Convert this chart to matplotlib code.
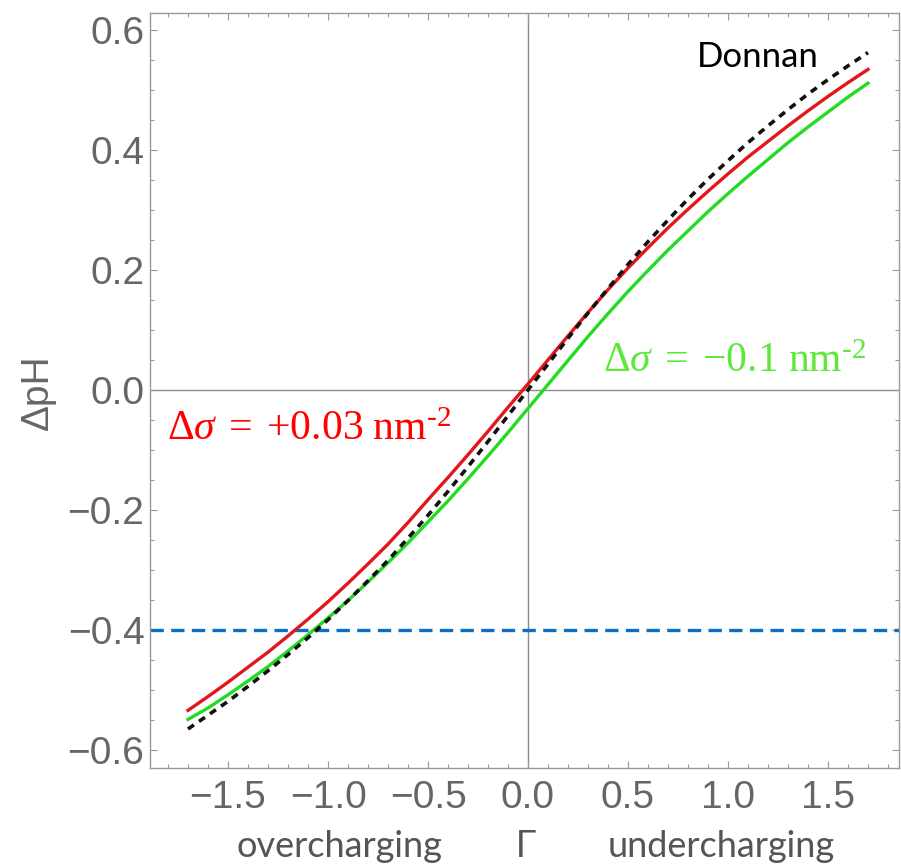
import matplotlib
matplotlib.use("Agg")
import matplotlib.pyplot as plt
from matplotlib.ticker import MultipleLocator, FuncFormatter

# ---- data ----
gamma = [-1.7, -1.6, -1.5, -1.4, -1.3, -1.2, -1.1, -1.0, -0.9, -0.8, -0.7, -0.6,
         -0.5, -0.4, -0.3, -0.2, -0.1, 0.0, 0.1, 0.2, 0.3, 0.4, 0.5, 0.6,
         0.7, 0.8, 0.9, 1.0, 1.1, 1.2, 1.3, 1.4, 1.5, 1.6, 1.7]

dph_donnan = [-0.565, -0.542, -0.519, -0.494, -0.468, -0.441, -0.413, -0.383, -0.351,
              -0.318, -0.284, -0.247, -0.209, -0.169, -0.128, -0.086, -0.043, 0.000,
              0.043, 0.086, 0.128, 0.169, 0.209, 0.247, 0.283, 0.318, 0.351, 0.382,
              0.412, 0.440, 0.467, 0.493, 0.517, 0.540, 0.562]

dph_plus003 = [-0.534, -0.511, -0.487, -0.462, -0.437, -0.410, -0.382, -0.353, -0.322,
               -0.290, -0.257, -0.221, -0.183, -0.146, -0.108, -0.069, -0.029, 0.010,
               0.050, 0.090, 0.129, 0.167, 0.203, 0.237, 0.270, 0.301, 0.331, 0.360,
               0.388, 0.414, 0.440, 0.465, 0.489, 0.512, 0.534]

dph_minus01 = [-0.549, -0.530, -0.508, -0.485, -0.461, -0.435, -0.408, -0.380, -0.351,
               -0.320, -0.288, -0.255, -0.220, -0.185, -0.148, -0.110, -0.071, -0.031,
               0.009, 0.049, 0.089, 0.127, 0.164, 0.199, 0.233, 0.265, 0.297, 0.327,
               0.356, 0.384, 0.412, 0.438, 0.463, 0.488, 0.511]

threshold = -0.4

x_ticks = [-1.5, -1.0, -0.5, 0.0, 0.5, 1.0, 1.5]
y_ticks = [-0.6, -0.4, -0.2, 0.0, 0.2, 0.4, 0.6]

# ---- style ----
plt.rcParams["font.family"] = ["Liberation Sans", "DejaVu Sans"]
plt.rcParams["mathtext.fontset"] = "custom"
plt.rcParams["mathtext.rm"] = "Liberation Serif"
plt.rcParams["mathtext.it"] = "Liberation Serif:italic"
plt.rcParams["mathtext.bf"] = "Liberation Serif:bold"

fig = plt.figure(figsize=(9.01, 8.67), dpi=100)
ax = fig.add_axes([150 / 901, 99 / 867, 749 / 901, 755 / 867])

frame_col = "#9a9a9a"
tick_col = "#666666"

ax.axhline(0, color="#8c8c8c", lw=1.0, zorder=1)
ax.axvline(0, color="#8c8c8c", lw=1.0, zorder=1)
ax.axhline(threshold, color="#0a6fc6", lw=2.4, dashes=(4.0, 2.2), zorder=2)

ax.plot(gamma, dph_plus003, color="#e3161c", lw=2.4, zorder=3)
ax.plot(gamma, dph_minus01, color="#22dc22", lw=2.4, zorder=3)
ax.plot(gamma, dph_donnan, color="#111111", lw=2.6, dashes=(2.0, 1.7), zorder=4)

ax.set_xlim(-1.89, 1.855)
ax.set_ylim(-0.63, 0.628)

ax.set_xticks(x_ticks)
ax.set_yticks(y_ticks)
ax.xaxis.set_minor_locator(MultipleLocator(0.1))
ax.yaxis.set_minor_locator(MultipleLocator(0.05))

def fmt(v, pos):
    s = f"{v:.1f}"
    if s == "-0.0":
        s = "0.0"
    return s.replace("-", "\u2212")

ax.xaxis.set_major_formatter(FuncFormatter(fmt))
ax.yaxis.set_major_formatter(FuncFormatter(fmt))

for sp in ax.spines.values():
    sp.set_color(frame_col)
    sp.set_linewidth(1.0)

ax.tick_params(which="both", direction="in", top=True, right=True, color=frame_col, width=0.8)
ax.tick_params(which="major", length=5)
ax.tick_params(which="minor", length=3)
ax.tick_params(axis="x", which="major", pad=9, labelsize=28, labelcolor=tick_col)
ax.tick_params(axis="y", which="major", pad=4, labelsize=28, labelcolor=tick_col)

# y label
ax.text(-0.150, 0.498, "\u0394pH", transform=ax.transAxes, rotation=90,
        ha="center", va="center", fontsize=28, color=tick_col)

# x label pieces
xt = ax.get_xaxis_transform()
base = -0.1175
ax.text(-0.945, base, "overcharging", transform=xt, ha="center", va="baseline",
        fontsize=26, color="#555555", family="Lato")
ax.text(-0.01, base, "\u0393", transform=xt, ha="center", va="baseline",
        fontsize=27, color="#555555")
ax.text(0.965, base, "undercharging", transform=xt, ha="center", va="baseline",
        fontsize=26, color="#555555", family="Lato")

# annotations
hy = "\u2010"
ax.text(0.845, 0.538, "Donnan", ha="left", va="baseline", fontsize=25,
        color="black", family="Lato")
ax.text(-1.805, -0.0833,
        r"$\Delta\sigma\;=\;{+}0.03\ \mathrm{nm}^{\mathrm{" + hy + "2}}$",
        ha="left", va="baseline", fontsize=30, color="#ff0000")
ax.text(0.375, 0.0305,
        r"$\Delta\sigma\;=\;{-}0.1\ \mathrm{nm}^{\mathrm{" + hy + "2}}$",
        ha="left", va="baseline", fontsize=30, color="#5fe83c")

fig.savefig("out.png", dpi=100)
